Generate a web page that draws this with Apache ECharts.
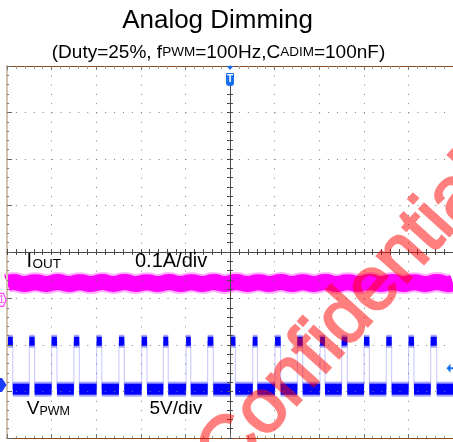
<!DOCTYPE html>
<html><head><meta charset="utf-8">
<script src="https://cdn.jsdelivr.net/npm/echarts@6/dist/echarts.min.js"></script>
<style>html,body{margin:0;padding:0;background:#fff}#c{width:453px;height:442px}#c canvas ~ canvas{opacity:0.5}</style>
</head><body><div id="c"></div>
<script>
// ---------------- data ----------------
const titleText = 'Analog Dimming';
const subtitleParts = ['(Duty=25%, f', 'PWM', '=100Hz,C', 'ADIM', '=100nF)'];
const ch1Name = ['I', 'OUT'];
const ch1Scale = '0.1A/div';
const ch2Name = ['V', 'PWM'];
const ch2Scale = '5V/div';
const watermark = 'Confidential';

// time axis: 20 ms/div, 10 divisions
const timeMin = 0, timeMax = 200, timeDiv = 20;
// IOUT axis (mA): 100 mA/div, ground ~1.03 div below centre
const iAxisMin = -297, iAxisMax = 503;
// VPWM axis (V): 5 V/div, ground ~2.86 div below centre
const vAxisMin = -5.7, vAxisMax = 34.3;

// IOUT trace (ms, mA)
const iTimes = [0, 2.7, 7.7, 12.7, 17.7, 22.7, 27.7, 32.7, 37.7, 42.7, 47.7, 52.7, 57.7, 62.7, 67.7, 72.7, 77.7, 82.7, 87.7, 92.7, 97.7, 102.7, 107.7, 112.7, 117.7, 122.7, 127.7, 132.7, 137.7, 142.7, 147.7, 152.7, 157.7, 162.7, 167.7, 172.7, 177.7, 182.7, 187.7, 192.7, 197.7, 200];
const iValues = [36.0, 38.3, 34.3, 38.2, 34.1, 38.4, 34.4, 38.2, 34.0, 38.3, 34.3, 38.5, 34.2, 38.1, 34.4, 38.3, 34.1, 38.2, 34.3, 38.4, 34.2, 38.3, 34.4, 38.1, 34.1, 38.3, 34.3, 38.2, 34.2, 38.4, 34.4, 38.1, 34.1, 38.3, 34.3, 38.3, 34.2, 38.2, 34.4, 38.3, 34.2, 36.0];

// VPWM pulses (ms) and levels (V)
const riseTimes = [0.1, 10.0, 20.0, 30.0, 40.2, 50.2, 60.4, 70.1, 80.3, 90.0, 100.3, 110.2, 120.2, 130.2, 140.4, 150.1, 160.1, 170.1, 180.1, 190.0];
const fallTimes = [2.6, 12.4, 22.4, 32.4, 42.5, 52.6, 62.8, 72.3, 82.4, 92.5, 102.4, 112.3, 122.7, 132.6, 142.6, 152.6, 162.5, 172.5, 182.5, 192.7];
const vHigh = 4.7, vLow = -0.45;

// trigger
const trigTime = 100, trigLevel = 1.8;

// ---------------- build ----------------
const FONT = '"Liberation Sans", Arial, Helvetica, sans-serif';
const brown = '#8c4a1e', tan = '#d3c2ae', dotC = '#7d7d7d', crossC = '#4a4a4a';

const edgeData = [];
const blocks = [];
for (let k = 0; k < riseTimes.length; k++) {
  edgeData.push([riseTimes[k], vLow], [riseTimes[k], vHigh], [fallTimes[k], vHigh], [fallTimes[k], vLow]);
  blocks.push([riseTimes[k], fallTimes[k], vHigh]);
  const nextRise = k + 1 < riseTimes.length ? riseTimes[k + 1] : timeMax;
  blocks.push([fallTimes[k], nextRise, vLow]);
}
if (riseTimes[0] > timeMin) blocks.push([timeMin, riseTimes[0], vLow]);
const iData = iTimes.map((t, k) => [t, iValues[k]]);

function xAx(extra) {
  return Object.assign({type: 'value', min: timeMin, max: timeMax, interval: timeDiv,
    axisLabel: {show: false}, splitLine: {show: false}, z: 5}, extra);
}
function yAx(extra) {
  return Object.assign({type: 'value', min: -4, max: 4, interval: 1,
    axisLabel: {show: false}, splitLine: {show: false}, z: 5}, extra);
}

const chart = echarts.init(document.getElementById('c'), null, {renderer: 'canvas'});
chart.setOption({
  animation: false,
  backgroundColor: '#ffffff',
  grid: {left: 7, top: 66, width: 446, height: 372, outerBoundsMode: 'none', containLabel: false},
  xAxis: [
    xAx({position: 'bottom', axisLine: {show: true, onZero: false, lineStyle: {color: brown, width: 1}},
      axisTick: {show: true, inside: true, length: 4, lineStyle: {color: '#777'}},
      minorTick: {show: true, splitNumber: 5, length: 2, lineStyle: {color: '#999'}},
      splitLine: {show: true, lineStyle: {color: dotC, width: 1, type: [1, 8.3]}}}),
    xAx({position: 'top', axisLine: {show: true, onZero: false, lineStyle: {color: brown, width: 1}},
      axisTick: {show: true, inside: true, length: 4, lineStyle: {color: '#777'}},
      minorTick: {show: true, splitNumber: 5, length: 3, lineStyle: {color: '#999'}}}),
    xAx({position: 'bottom', offset: -186, axisLine: {show: true, onZero: false, lineStyle: {color: crossC, width: 1}},
      axisTick: {show: true, inside: true, length: 3, lineStyle: {color: crossC}},
      minorTick: {show: true, splitNumber: 5, length: 3, lineStyle: {color: crossC}}}),
    xAx({position: 'bottom', offset: -186, axisLine: {show: true, onZero: false, lineStyle: {color: crossC, width: 1}},
      axisTick: {show: true, inside: false, length: 3, lineStyle: {color: crossC}},
      minorTick: {show: true, splitNumber: 5, length: 3, lineStyle: {color: crossC}}})
  ],
  yAxis: [
    yAx({position: 'left', axisLine: {show: true, onZero: false, lineStyle: {color: tan, width: 2}},
      axisTick: {show: true, inside: true, length: 5, lineStyle: {color: '#666'}},
      minorTick: {show: true, splitNumber: 5, length: 2, lineStyle: {color: '#777'}},
      splitLine: {show: true, lineStyle: {color: dotC, width: 1, type: [1, 7.92]}}}),
    yAx({position: 'left', offset: -223, axisLine: {show: true, onZero: false, lineStyle: {color: crossC, width: 1}},
      axisTick: {show: true, inside: true, length: 3, lineStyle: {color: crossC}},
      minorTick: {show: true, splitNumber: 5, length: 3, lineStyle: {color: crossC}}}),
    yAx({position: 'left', offset: -223, axisLine: {show: true, onZero: false, lineStyle: {color: crossC, width: 1}},
      axisTick: {show: true, inside: false, length: 3, lineStyle: {color: crossC}},
      minorTick: {show: true, splitNumber: 5, length: 3, lineStyle: {color: crossC}}}),
    {type: 'value', min: iAxisMin, max: iAxisMax, show: false},
    {type: 'value', min: vAxisMin, max: vAxisMax, show: false}
  ],
  series: [
    {type: 'line', name: 'VPWM edges', xAxisIndex: 0, yAxisIndex: 4, data: edgeData, symbol: 'none',
      lineStyle: {color: 'rgba(90,90,255,0.35)', width: 1}, z: 1, silent: true},
    {type: 'custom', name: 'VPWM', xAxisIndex: 0, yAxisIndex: 4, data: blocks, encode: {x: [0, 1], y: 2},
      clip: true, z: 2, silent: true,
      renderItem: function (params, api) {
        const t0 = api.value(0), t1 = api.value(1), v = api.value(2);
        const a = api.coord([t0, v]), b = api.coord([t1, v]);
        const hi = v > (vHigh + vLow) / 2;
        const oh = hi ? 13 : 15, ih = hi ? 9 : 11;
        return {type: 'group', children: [
          {type: 'rect', shape: {x: a[0], y: a[1] - oh / 2, width: b[0] - a[0], height: oh}, style: {fill: 'rgba(0,0,255,0.35)'}},
          {type: 'rect', shape: {x: a[0], y: a[1] - ih / 2, width: b[0] - a[0], height: ih}, style: {fill: '#0000ff'}}
        ]};
      }},
    {type: 'line', name: 'IOUT halo', xAxisIndex: 0, yAxisIndex: 3, data: iData, symbol: 'none', smooth: 0.5,
      lineStyle: {color: 'rgba(255,0,255,0.3)', width: 20, cap: 'butt'}, z: 2, silent: true},
    {type: 'line', name: 'IOUT', xAxisIndex: 0, yAxisIndex: 3, data: iData, symbol: 'none', smooth: 0.5,
      lineStyle: {color: '#ff00ff', width: 16, cap: 'butt'}, z: 3, silent: true}
  ]
});

// ---------------- annotations ----------------
const yI0 = chart.convertToPixel({yAxisIndex: 3}, 0);
const yV0 = chart.convertToPixel({yAxisIndex: 4}, 0);
const yTrig = chart.convertToPixel({yAxisIndex: 4}, trigLevel);
const xTrig = chart.convertToPixel({xAxisIndex: 0}, trigTime);
const xL = chart.convertToPixel({xAxisIndex: 0}, timeMin);
const xR = chart.convertToPixel({xAxisIndex: 0}, timeMax);
const yTop = chart.convertToPixel({yAxisIndex: 0}, 4);
const blue = '#1a6ff0';
const mid = fs => 0.33 * fs; // baseline offset from text middle

chart.setOption({
  graphic: [
    {type: 'text', x: 217.5, y: 29.3 - mid(26), z: 50, style: {text: titleText, font: '26px ' + FONT, fill: '#000', align: 'center', verticalAlign: 'middle'}},
    {type: 'text', x: 218.5, y: 59 - mid(19), z: 50, style: {
      text: '{m|' + subtitleParts[0] + '}{s|' + subtitleParts[1] + '}{m|' + subtitleParts[2] + '}{s|' + subtitleParts[3] + '}{m|' + subtitleParts[4] + '}',
      align: 'center', verticalAlign: 'middle', fill: '#000',
      rich: {m: {fontSize: 19, fontFamily: FONT, fill: '#000', height: 19}, s: {fontSize: 13.5, fontFamily: FONT, fill: '#000', height: 9}}}},
    // channel labels
    {type: 'text', x: 26.5, y: 268.3 - mid(20), z: 50, style: {text: ch1Name[0], font: '20px ' + FONT, fill: '#000', align: 'left', verticalAlign: 'middle'}},
    {type: 'text', x: 32.6, y: 268.3 - mid(13.5), z: 50, style: {text: ch1Name[1], font: '13.5px ' + FONT, fill: '#000', align: 'left', verticalAlign: 'middle'}},
    {type: 'text', x: 135, y: 268.3 - mid(20), z: 50, style: {text: ch1Scale, font: '20px ' + FONT, fill: '#000', align: 'left', verticalAlign: 'middle'}},
    {type: 'text', x: 26.7, y: 415.3 - mid(19), z: 50, style: {text: ch2Name[0], font: '19px ' + FONT, fill: '#000', align: 'left', verticalAlign: 'middle'}},
    {type: 'text', x: 39.4, y: 415.3 - mid(12.5), z: 50, style: {text: ch2Name[1], font: '12.5px ' + FONT, fill: '#000', align: 'left', verticalAlign: 'middle'}},
    {type: 'text', x: 149.5, y: 415.3 - mid(19), z: 50, style: {text: ch2Scale, font: '19px ' + FONT, fill: '#000', align: 'left', verticalAlign: 'middle'}},
    // trigger position marker (top)
    {type: 'rect', z: 40, shape: {x: xTrig - 1.5, y: yTop + 1, width: 3, height: 19}, style: {fill: '#fff'}},
    {type: 'polygon', z: 41, shape: {points: [[xTrig - 3.5, yTop], [xTrig + 3.5, yTop], [xTrig, yTop + 4]]}, style: {fill: blue}},
    {type: 'rect', z: 41, shape: {x: xTrig - 4, y: yTop + 7, width: 8, height: 13, r: [1, 1, 3, 3]}, style: {fill: blue}},
    {type: 'text', z: 42, x: xTrig, y: yTop + 13.5, style: {text: 'T', font: 'bold 10px ' + FONT, fill: '#fff', align: 'center', verticalAlign: 'middle'}},
    // channel 1 ground marker
    {type: 'polygon', z: 41, shape: {points: [[xL - 22, yI0 - 6.5], [xL - 3.5, yI0 - 6.5], [xL - 1, yI0], [xL - 3.5, yI0 + 6.5], [xL - 22, yI0 + 6.5]]},
      style: {fill: '#fff', stroke: '#ff40ff', lineWidth: 1.2}},
    {type: 'text', z: 42, x: xL - 5.5, y: yI0, style: {text: '1', font: '10px ' + FONT, fill: '#ff40ff', align: 'center', verticalAlign: 'middle'}},
    // channel 2 ground marker
    {type: 'polygon', z: 41, shape: {points: [[xL - 22, yV0 - 7], [xL - 5, yV0 - 7], [xL - 0.5, yV0], [xL - 5, yV0 + 7], [xL - 22, yV0 + 7]]},
      style: {fill: '#1a3cff'}},
    // trigger level marker (right)
    {type: 'polygon', z: 41, shape: {points: [[xR - 6.5, yTrig], [xR - 2.5, yTrig - 4.5], [xR - 2.5, yTrig + 4.5]]}, style: {fill: blue}},
    {type: 'rect', z: 41, shape: {x: xR - 3, y: yTrig - 1, width: 3, height: 2}, style: {fill: blue}},
    // watermark (own layer, made half transparent by CSS)
    {type: 'text', zlevel: 1, z: 100, x: 347, y: 318, rotation: 48 * Math.PI / 180,
      style: {text: watermark, font: '76px ' + FONT, fill: '#ff0000', stroke: '#ff0000', lineWidth: 2.5,
        align: 'center', verticalAlign: 'middle'}}
  ]
});
</script></body></html>
